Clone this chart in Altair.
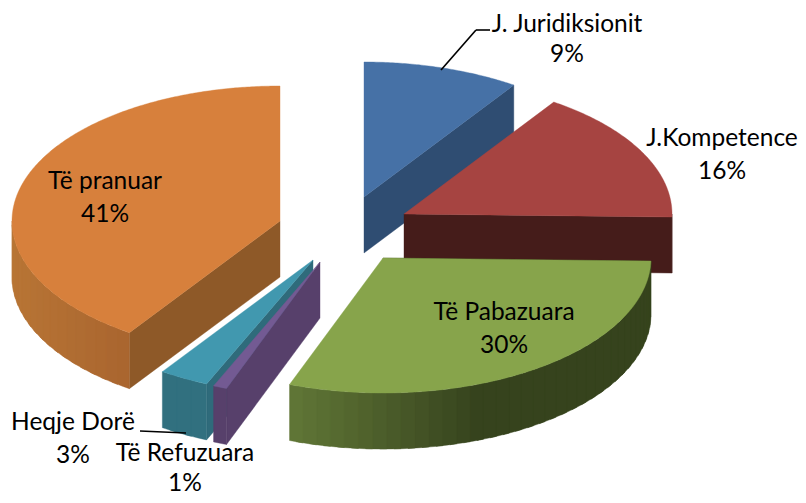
import math
import altair as alt
import numpy as np
import pandas as pd

# Data
categories = ["J. Juridiksionit", "J.Kompetence", "Të Pabazuara", "Të Refuzuara", "Heqje Dorë", "Të pranuar"]
shares = [9.44, 15.92, 30.31, 0.83, 3.0, 40.5]
percent_labels = ["9%", "16%", "30%", "1%", "3%", "41%"]

# Layout: page pixels of each exploded slice's apex
OFFSET = 8
apex_x = [364, 404, 383, 320, 313, 280]
apex_y = [197, 214, 258, 262, 260, 221]
RX, RY, DEPTH = 268, 135, 56
label_x = [567, 722, 504, 185, 73, 105]
label_y = [25, 139, 313, 454, 423, 182]
percent_y = [55, 172, 346, 484, 456, 215]

# Styles
top_colors = ["#4671a6", "#a64441", "#87a44b", "#735a93", "#4198af", "#d7803c"]
cut_colors = ["#2f4d72", "#451c1a", "#36431d", "#57406b", "#2f6b7b", "#8e5928"]
wall_stops = [
    ["#2f4d72", "#2f4d72"],
    ["#451c1a", "#451c1a"],
    ["#36431d", "#617737"],
    ["#57406b", "#57406b"],
    ["#31707f", "#31707f"],
    ["#a9652f", "#b87535"],
]
paint_order = [0, 1, 5, 4, 3, 2]


def point(i, deg, drop=0.0):
    t = math.radians(deg)
    return [apex_x[i] - OFFSET + RX * math.sin(t), apex_y[i] - OFFSET - RY * math.cos(t) + drop]


def hex_mix(a, b, f):
    ca = [int(a[k:k + 2], 16) for k in (1, 3, 5)]
    cb = [int(b[k:k + 2], 16) for k in (1, 3, 5)]
    return "#" + "".join(f"{round(x + (y - x) * f):02x}" for x, y in zip(ca, cb))


def feature(ring, color):
    ring = [[round(p[0], 2), round(p[1], 2)] for p in ring]
    return {"type": "Feature", "properties": {"color": color},
            "geometry": {"type": "Polygon", "coordinates": [ring + [ring[0]]]}}


edges = np.concatenate([[0], np.cumsum(shares) * 3.6])
features = []
for i in paint_order:
    a0, a1 = float(edges[i]), float(edges[i + 1])
    apex = [apex_x[i] - OFFSET, apex_y[i] - OFFSET]
    apex_low = [apex[0], apex[1] + DEPTH]
    # Cut faces that look toward the viewer
    if a0 > 90:
        features.append(feature([apex, point(i, a0), point(i, a0, DEPTH), apex_low], cut_colors[i]))
    if a1 < 180:
        features.append(feature([apex, point(i, a1), point(i, a1, DEPTH), apex_low], cut_colors[i]))
    # Outer wall, shaded in overlapping strips
    lo, hi = max(a0, 90), min(a1, 270)
    if hi > lo:
        n = max(1, int((hi - lo) / 3))
        steps = np.linspace(lo, hi, n + 1)
        xs = [point(i, float(s))[0] for s in steps]
        xmin, xmax = min(xs), max(xs)
        for s0, s1 in zip(steps[:-1], steps[1:]):
            s0, s1 = float(s0), float(s1)
            x = (point(i, s0)[0] + point(i, s1)[0]) / 2
            f = (xmax - x) / max(xmax - xmin, 1)
            if i == 2:  # dark until about 100 px from the left rim
                f = max(0.0, (f - 0.48) / 0.52)
            color = hex_mix(wall_stops[i][0], wall_stops[i][1], min(f, 1.0))
            arc = [float(v) for v in np.linspace(s0, min(s1 + 1.5, hi), 6)]
            ring = [point(i, s) for s in arc] + [point(i, s, DEPTH) for s in reversed(arc)]
            features.append(feature(ring, color))
    # Top face
    arc = [point(i, float(s)) for s in np.linspace(a0, a1, max(3, int((a1 - a0) * 2)))]
    features.append(feature([apex] + arc, top_colors[i]))

pie = alt.Chart(
    alt.InlineData(values={"type": "FeatureCollection", "features": features},
                   format=alt.DataFormat(type="json", property="features"))
).mark_geoshape(strokeWidth=0.4, clip=False).encode(
    fill=alt.Fill("properties.color:N", scale=None, legend=None),
    stroke=alt.Stroke("properties.color:N", scale=None, legend=None),
).project(type="identity", scale=1, translate=[0, 0])

rows = []
for c, p, x, y, py in zip(categories, percent_labels, label_x, label_y, percent_y):
    rows.append({"t": c, "x": x - OFFSET, "y": y - OFFSET})
    rows.append({"t": p, "x": x - OFFSET, "y": py - OFFSET})
texts = alt.Chart(pd.DataFrame(rows)).mark_text(
    font="Lato", fontSize=24.5, color="#000000", align="center", baseline="middle"
).encode(
    x=alt.X("x:Q", scale=None, axis=None),
    y=alt.Y("y:Q", scale=None, axis=None),
    text="t:N",
)

leader_rows = [
    {"x": 441 - OFFSET, "y": 70 - OFFSET, "x2": 476 - OFFSET, "y2": 30 - OFFSET},
    {"x": 476 - OFFSET, "y": 30 - OFFSET, "x2": 490 - OFFSET, "y2": 30 - OFFSET},
    {"x": 140 - OFFSET, "y": 431 - OFFSET, "x2": 186 - OFFSET, "y2": 433 - OFFSET},
]
leaders = alt.Chart(pd.DataFrame(leader_rows)).mark_rule(color="#000000", strokeWidth=1.6).encode(
    x=alt.X("x:Q", scale=None, axis=None),
    y=alt.Y("y:Q", scale=None, axis=None),
    x2="x2:Q",
    y2="y2:Q",
)

chart = alt.layer(pie, leaders, texts).properties(
    width=780, height=470, padding=0
).configure_view(stroke=None)

chart.save("out.html", embed_options={"renderer": "svg", "actions": False})
